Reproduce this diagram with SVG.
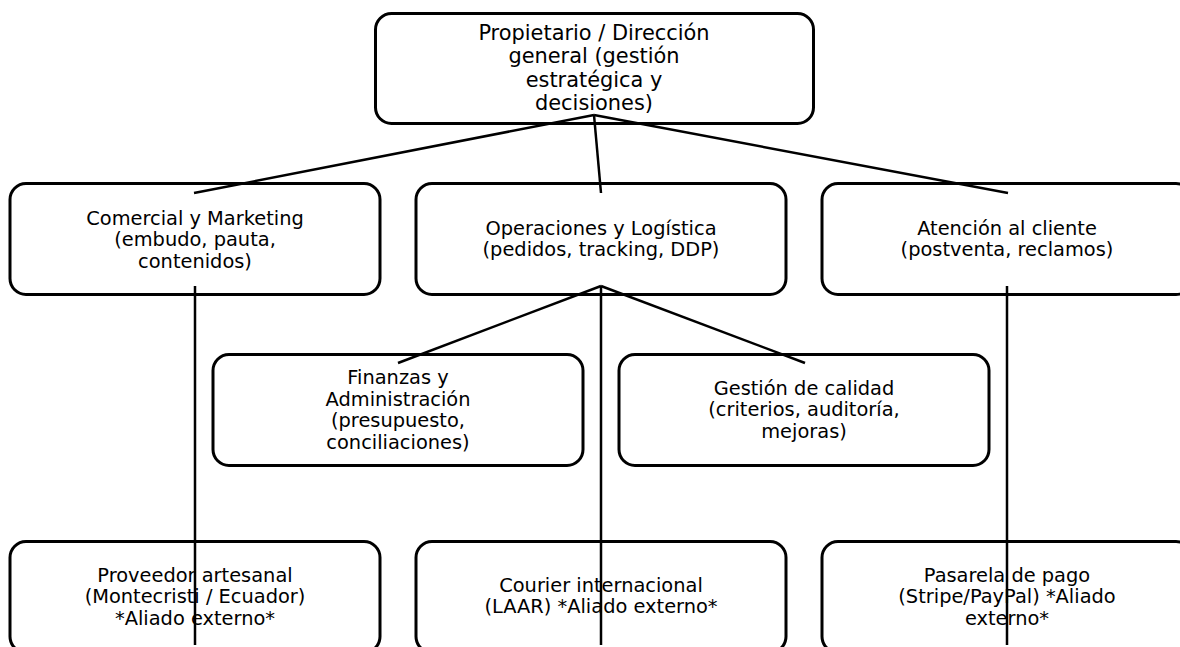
<svg xmlns="http://www.w3.org/2000/svg" width="1180" height="647" viewBox="0 0 1180 647">
<style>
.box{fill:#fff;stroke:#000;stroke-width:3}
.t{font-family:"DejaVu Sans",sans-serif;font-size:19.4px;fill:#000;text-anchor:middle}
.tt{font-size:20.9px}
.c{stroke:#000;stroke-width:2.5;fill:none}
</style>
<rect width="1180" height="647" fill="#fff"/>
<g id="n-top"><rect class="box" x="375.5" y="13.5" width="438" height="110" rx="16"/>
<text class="t tt" x="594"><tspan x="594" y="40">Propietario / Dirección</tspan><tspan x="594" y="63.3">general (gestión</tspan><tspan x="594" y="86.6">estratégica y</tspan><tspan x="594" y="110">decisiones)</tspan></text></g>
<g id="n-comercial"><rect class="box" x="10" y="183.5" width="370" height="111" rx="16"/>
<text class="t"><tspan x="195" y="224.5">Comercial y Marketing</tspan><tspan x="195" y="246">(embudo, pauta,</tspan><tspan x="195" y="267.5">contenidos)</tspan></text></g>
<g id="n-operaciones"><rect class="box" x="416" y="183.5" width="370" height="111" rx="16"/>
<text class="t"><tspan x="601" y="235">Operaciones y Logística</tspan><tspan x="601" y="256">(pedidos, tracking, DDP)</tspan></text></g>
<g id="n-atencion"><rect class="box" x="822" y="183.5" width="370" height="111" rx="16"/>
<text class="t"><tspan x="1007" y="235">Atención al cliente</tspan><tspan x="1007" y="256">(postventa, reclamos)</tspan></text></g>
<g id="n-finanzas"><rect class="box" x="213" y="354.5" width="370" height="111" rx="16"/>
<text class="t"><tspan x="398" y="384">Finanzas y</tspan><tspan x="398" y="405.5">Administración</tspan><tspan x="398" y="427">(presupuesto,</tspan><tspan x="398" y="448.5">conciliaciones)</tspan></text></g>
<g id="n-calidad"><rect class="box" x="619" y="354.5" width="370" height="111" rx="16"/>
<text class="t"><tspan x="804" y="394.5">Gestión de calidad</tspan><tspan x="804" y="416">(criterios, auditoría,</tspan><tspan x="804" y="437.5">mejoras)</tspan></text></g>
<g id="n-proveedor"><rect class="box" x="10" y="541.5" width="370" height="111" rx="16"/>
<text class="t"><tspan x="195" y="581.5">Proveedor artesanal</tspan><tspan x="195" y="603">(Montecristi / Ecuador)</tspan><tspan x="195" y="624.5">*Aliado externo*</tspan></text></g>
<g id="n-courier"><rect class="box" x="416" y="541.5" width="370" height="111" rx="16"/>
<text class="t"><tspan x="601" y="591.5">Courier internacional</tspan><tspan x="601" y="613">(LAAR) *Aliado externo*</tspan></text></g>
<g id="n-pasarela"><rect class="box" x="822" y="541.5" width="370" height="111" rx="16"/>
<text class="t"><tspan x="1007" y="581.5">Pasarela de pago</tspan><tspan x="1007" y="603">(Stripe/PayPal) *Aliado</tspan><tspan x="1007" y="624.5">externo*</tspan></text></g>
<g id="connectors">
<line class="c" x1="594" y1="115" x2="194" y2="193"/>
<line class="c" x1="594" y1="115" x2="601" y2="193"/>
<line class="c" x1="594" y1="115" x2="1008" y2="193"/>
<line class="c" x1="601" y1="286" x2="398" y2="363"/>
<line class="c" x1="601" y1="286" x2="805" y2="363"/>
<line class="c" x1="195" y1="286" x2="195" y2="645"/>
<line class="c" x1="601" y1="286" x2="601" y2="645"/>
<line class="c" x1="1007" y1="286" x2="1007" y2="645"/>
</g>
</svg>
